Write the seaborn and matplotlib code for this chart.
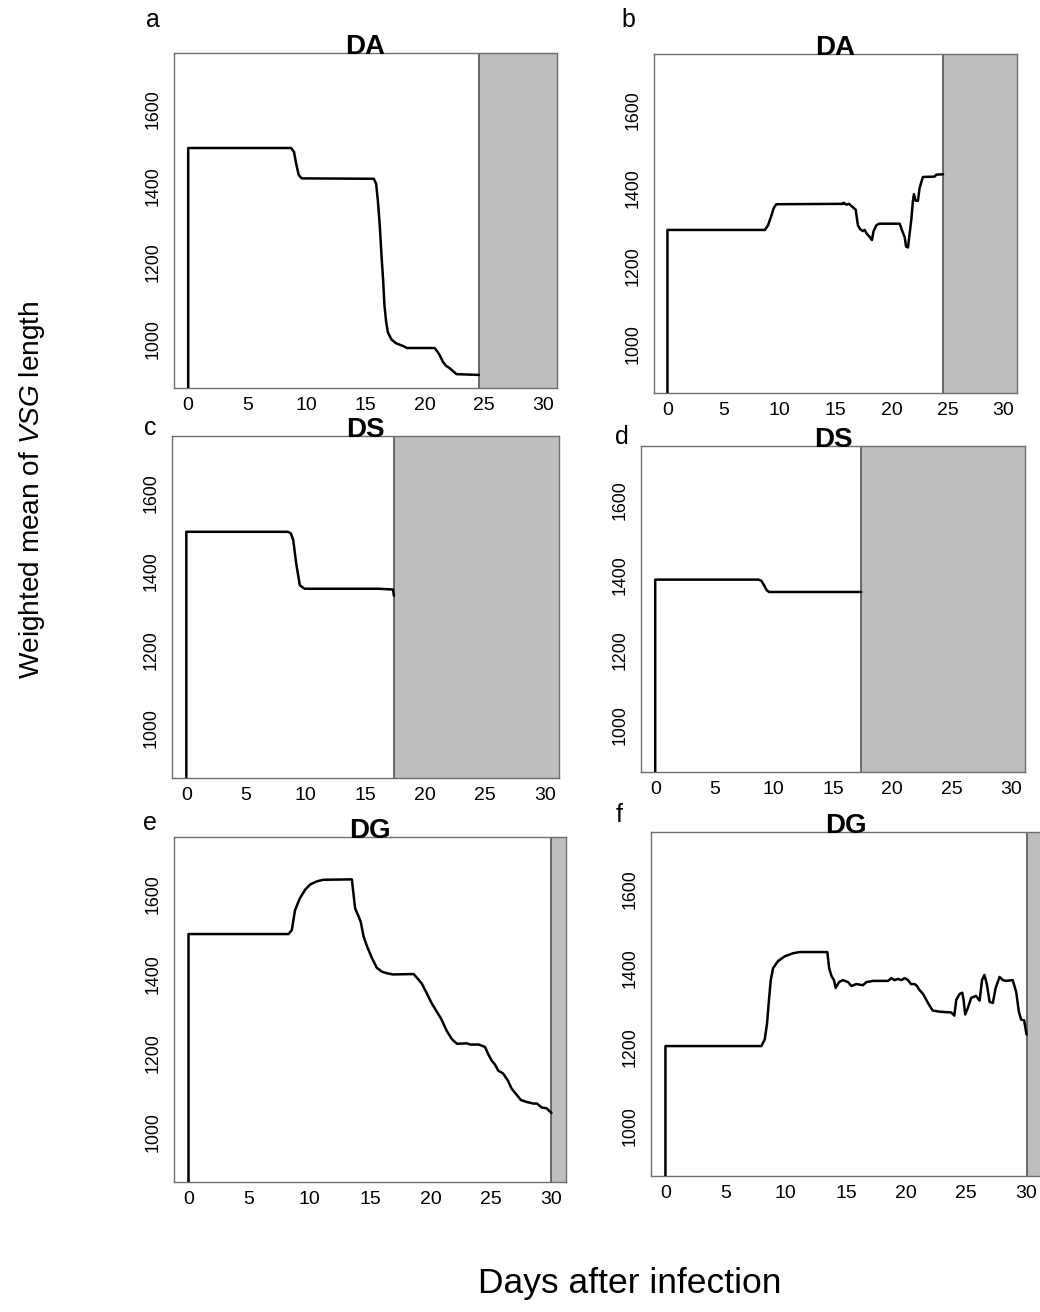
import numpy as np
import pandas as pd
import matplotlib
matplotlib.use("Agg")
import matplotlib.pyplot as plt
import seaborn as sns

# ---------------- data ----------------
# panel a (DA)
a_day = [0, 0, 8.7, 8.95, 9.15, 9.35, 9.6, 15.7, 15.9, 16.05, 16.2, 16.35, 16.5, 16.6, 16.75, 16.9, 17.2, 17.6, 18.2, 18.5,
         20.85, 21.1, 21.3, 21.55, 21.8, 22.1, 22.4, 22.7, 24.6]
a_val = [0, 1498, 1498, 1488, 1455, 1428, 1419, 1418, 1405, 1360, 1300, 1220, 1150, 1090, 1045, 1018, 1000, 990, 983, 978,
         978, 968, 958, 942, 932, 926, 918, 910, 908]

# panel b (DA)
b_day = [0, 0, 8.7, 8.98, 9.28, 9.5, 9.72, 15.67, 15.73, 15.97, 16.2, 16.4, 16.6, 16.8, 17.0, 17.2, 17.45, 17.6, 17.8,
         18.05, 18.25, 18.4, 18.65, 18.9, 20.73, 20.96, 21.17, 21.3, 21.47, 21.6, 21.77, 21.9, 22.0, 22.15, 22.36,
         22.5, 22.8, 23.85, 24.0, 24.6]
b_val = [0, 1293, 1293, 1305, 1330, 1350, 1359, 1360, 1363, 1358, 1360, 1355, 1350, 1345, 1305, 1295, 1290, 1293, 1283,
         1275, 1267, 1290, 1305, 1309, 1309, 1290, 1275, 1250, 1248, 1280, 1320, 1365, 1385, 1368, 1368,
         1400, 1429, 1430, 1435, 1436]

# panel c (DS)
c_day = [0, 0, 8.5, 8.75, 8.95, 9.2, 9.5, 9.9, 16.1, 17.3, 17.38]
c_val = [0, 1501, 1501, 1497, 1480, 1420, 1365, 1356, 1356, 1354, 1338]

# panel d (DS)
d_day = [0, 0, 8.7, 8.95, 9.2, 9.4, 9.6, 17.38]
d_val = [0, 1388, 1388, 1385, 1372, 1360, 1355, 1355]

# panel e (DG)
e_day = [0, 0, 8.26, 8.54, 8.8, 9.2, 9.64, 10.05, 10.6, 11.15, 13.5, 13.64, 13.77, 14.05, 14.24, 14.46, 14.74, 15.15,
         15.56, 15.98, 16.4, 16.9, 18.6, 18.87, 19.28, 19.7, 20.1, 20.5, 20.9, 21.35, 21.76, 22.18, 23.0, 23.3,
         24.0, 24.5, 24.8, 25.07, 25.34, 25.6, 26.0, 26.4, 26.7, 27.1, 27.47, 27.96, 28.5, 28.8, 29.2, 29.6, 30.0]
e_val = [0, 1500, 1500, 1510, 1560, 1590, 1612, 1625, 1633, 1637, 1638, 1600, 1565, 1545, 1530, 1495, 1470, 1440,
         1415, 1405, 1401, 1398, 1399, 1390, 1375, 1350, 1325, 1305, 1285, 1255, 1235, 1223, 1224, 1221,
         1221, 1215, 1195, 1180, 1170, 1155, 1148, 1130, 1110, 1095, 1081, 1076, 1072, 1072, 1062, 1060, 1048]

# panel f (DG)
f_day = [0, 0, 7.97, 8.25, 8.44, 8.6, 8.75, 8.94, 9.35, 9.9, 10.6, 11.15, 13.45, 13.6, 13.8, 14.0, 14.14, 14.42, 14.75,
         15.17, 15.45, 15.86, 16.4, 16.7, 17.24, 18.5, 18.77, 19.04, 19.3, 19.6, 19.87, 20.15, 20.4, 20.7, 20.9,
         21.1, 21.4, 21.67, 21.95, 22.2, 22.8, 23.75, 24.0, 24.16, 24.44, 24.66, 24.77, 24.9, 25.13, 25.4, 25.8,
         26.1, 26.3, 26.5, 26.7, 26.93, 27.2, 27.43, 27.76, 28.04, 28.3, 28.85, 29.14, 29.36, 29.55, 29.8, 30.0]
f_val = [0, 1203, 1203, 1220, 1260, 1320, 1370, 1400, 1418, 1430, 1438, 1441, 1441, 1400, 1380, 1370, 1350, 1365, 1370,
         1365, 1355, 1360, 1357, 1365, 1368, 1368, 1375, 1370, 1373, 1370, 1375, 1370, 1360, 1360, 1355,
         1345, 1335, 1320, 1305, 1293, 1290, 1288, 1280, 1320, 1335, 1338, 1320, 1283, 1300, 1325, 1330,
         1318, 1370, 1383, 1360, 1315, 1312, 1350, 1378, 1370, 1368, 1370, 1340, 1290, 1270, 1268, 1232]

panel_letters = ["a", "b", "c", "d", "e", "f"]
panel_titles = ["DA", "DA", "DS", "DS", "DG", "DG"]
death_day = [24.6, 24.6, 17.4, 17.4, 30.0, 30.0]
x_ticks = [0, 5, 10, 15, 20, 25, 30]
y_ticks = [1000, 1200, 1400, 1600]

series = [(a_day, a_val), (b_day, b_val), (c_day, c_val),
          (d_day, d_val), (e_day, e_val), (f_day, f_val)]

# ---------------- style ----------------
sns.set_style("white")
plt.rcParams['font.family'] = ['Liberation Sans', 'DejaVu Sans']
plt.rcParams['text.color'] = 'black'
plt.rcParams['axes.labelcolor'] = 'black'
plt.rcParams['axes.titlecolor'] = 'black'
plt.rcParams['mathtext.fontset'] = 'custom'
plt.rcParams['mathtext.rm'] = 'Liberation Sans'
plt.rcParams['mathtext.it'] = 'Liberation Sans:italic'

W, H = 1040, 1312
fig = plt.figure(figsize=(W / 100, H / 100), dpi=100)

# axes boxes in pixels (left, top, right, bottom)
boxes = [(174, 53, 557, 388), (654, 54, 1017, 393),
         (172, 436, 559, 778), (641, 446, 1025, 772),
         (174, 837, 566, 1182), (651, 832, 1041, 1176)]
letter_pos = [(153, 20), (628, 20), (150, 428), (622, 437), (150, 823), (619, 815)]

frame_col = "#6e6e6e"
for i, ((l, t, r, b), (xd, yd)) in enumerate(zip(boxes, series)):
    ax = fig.add_axes([l / W, 1 - b / H, (r - l) / W, (b - t) / H])
    ax.axvspan(death_day[i], 40, facecolor="#BEBEBE", edgecolor="none", zorder=0)
    ax.axvline(death_day[i], color="#555555", lw=1.2, zorder=1)
    df = pd.DataFrame({"day": xd, "len": yd})
    sns.lineplot(data=df, x="day", y="len", ax=ax, estimator=None, sort=False,
                 color="black", lw=1.8, zorder=3)
    ax.set_xlim(-1.2, 31.2)
    ax.set_ylim(874, 1745)
    ax.set_xticks(x_ticks)
    ax.set_yticks(y_ticks)
    ax.set_xlabel("")
    ax.set_ylabel("")
    for s in ax.spines.values():
        s.set_color(frame_col)
        s.set_linewidth(1.0)
        s.set_visible(True)
    ax.tick_params(axis="both", direction="out", length=5, width=1, color=frame_col,
                   labelcolor="black")
    ax.tick_params(axis="x", pad=1.5, labelsize=14)
    ax.tick_params(axis="y", pad=4, labelsize=12.8)
    for lab in ax.get_yticklabels():
        lab.set_rotation(90)
        lab.set_va("center")
    ax.set_title(panel_titles[i], fontsize=20, fontweight="bold", pad=-1, color="black")
    lx, ly = letter_pos[i]
    fig.text(lx / W, 1 - ly / H, panel_letters[i], fontsize=18, ha="center", va="center")

fig.text(32 / W, 1 - 490 / H, "Weighted mean of $\\mathit{VSG}$ length", rotation=90,
         fontsize=20.2, ha="center", va="center")
fig.text(630 / W, 1 - 1284 / H, "Days after infection", fontsize=25.5, ha="center", va="center")

fig.savefig("out.png", dpi=100)
